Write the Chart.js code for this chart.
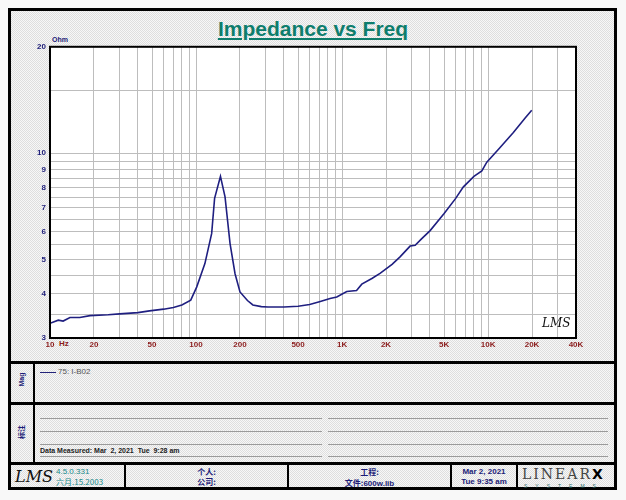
<!DOCTYPE html>
<html>
<head>
<meta charset="utf-8">
<script src="https://cdn.jsdelivr.net/npm/chart.js@4.4.1/dist/chart.umd.min.js"></script>
<style>
  html, body { margin: 0; padding: 0; }
  body {
    width: 626px; height: 500px; position: relative; overflow: hidden;
    background: #f8f8f8;
    font-family: "Liberation Sans", Arial, sans-serif;
  }
  .dither {
    background: repeating-conic-gradient(#f7f7f7 0 25%, #dedede 0 50%) 0 0 / 2px 2px;
  }
  .abs { position: absolute; }
  .bar { position: absolute; background: #000; }
  #frame { left: 8px; top: 8px; width: 603px; height: 476px; border: 3px solid #000; }
  #title {
    left: 0; width: 626px; top: 17px; text-align: center;
    font-size: 21px; font-weight: bold; color: #0e7d6c; text-decoration: underline;
  }
  #wrap { left: 10px; top: 38px; width: 598px; height: 318px; }
  .navy { color: #1c1c78; }
  .small { font-size: 8px; font-weight: bold; }
  .vert { transform: rotate(-90deg); transform-origin: center; text-align: center; width: 40px; }
  .nline { position: absolute; height: 1px; background: #9a9a9a; }
  .ft { font-size: 8px; font-weight: bold; color: #1c1c78; text-align: center; line-height: 10px; }
</style>
</head>
<body>
<div id="frame" class="abs dither"></div>
<div id="title" class="abs">Impedance vs Freq</div>
<div class="abs small navy" style="left:52px;top:36px;font-size:7px;">Ohm</div>
<div class="abs small" style="left:59px;top:339px;color:#8b1c1c;">Hz</div>
<div id="wrap" class="abs"><canvas id="chart" width="598" height="318"></canvas></div>
<div class="abs" style="left:542px;top:316px;font-family:'DejaVu Serif',serif;font-style:italic;font-size:12px;color:#111;">LMS</div>

<!-- legend / notes / footer separators -->
<div class="bar" style="left:8px;top:361px;width:609px;height:3px;"></div>
<div class="bar" style="left:8px;top:402px;width:609px;height:3px;"></div>
<div class="bar" style="left:8px;top:462px;width:609px;height:3px;"></div>
<div class="bar" style="left:33px;top:363px;width:2px;height:100px;"></div>

<div class="abs small navy vert" style="left:1px;top:376px;font-size:7px;">Mag</div>
<div class="abs small navy vert" style="left:1px;top:427px;font-size:7px;font-family:'Noto Sans CJK SC';">标注</div>

<div class="abs" style="left:40px;top:372px;width:16px;height:1px;background:#23237a;"></div>
<div class="abs" style="left:58px;top:367px;font-size:8px;color:#555;">75: I-B02</div>

<div class="nline" style="left:40px;top:418px;width:282px;"></div>
<div class="nline" style="left:40px;top:431px;width:282px;"></div>
<div class="nline" style="left:40px;top:444px;width:282px;"></div>
<div class="nline" style="left:40px;top:456px;width:282px;"></div>
<div class="nline" style="left:328px;top:418px;width:280px;"></div>
<div class="nline" style="left:328px;top:431px;width:280px;"></div>
<div class="nline" style="left:328px;top:444px;width:280px;"></div>
<div class="nline" style="left:328px;top:456px;width:280px;"></div>
<div class="abs" style="left:40px;top:447px;font-size:7px;font-weight:bold;color:#222;">Data Measured: Mar&nbsp; 2, 2021&nbsp; Tue&nbsp; 9:28 am</div>

<!-- footer -->
<div class="bar" style="left:124px;top:464px;width:2px;height:24px;"></div>
<div class="bar" style="left:287px;top:464px;width:2px;height:24px;"></div>
<div class="bar" style="left:450px;top:464px;width:2px;height:24px;"></div>
<div class="bar" style="left:516px;top:464px;width:2px;height:24px;"></div>
<div class="abs" style="left:15px;top:467px;font-family:'DejaVu Serif',serif;font-style:italic;font-size:16px;color:#111;">LMS</div>
<div class="abs" style="left:56px;top:467px;font-size:8px;color:#168a8a;line-height:10px;">4.5.0.331<br><span style="font-family:'Noto Sans CJK SC';">六月.15.2003</span></div>
<div class="abs ft" style="left:126px;width:161px;top:467px;font-family:'Noto Sans CJK SC';">个人:<br>公司:</div>
<div class="abs ft" style="left:289px;width:161px;top:467px;"><span style="font-family:'Noto Sans CJK SC';">工程:</span><br><span style="font-family:'Noto Sans CJK SC';">文件:</span>600w.lib</div>
<div class="abs ft" style="left:452px;width:64px;top:467px;">Mar 2, 2021<br>Tue 9:35 am</div>
<div class="abs" style="left:522px;top:466px;font-family:'DejaVu Serif',serif;font-size:14px;color:#444;letter-spacing:2px;">LINEAR<b style="font-family:'DejaVu Sans';color:#000;">X</b></div>
<div class="abs" style="left:524px;top:483px;font-size:5px;color:#2a6a6a;letter-spacing:8px;">SYSTEMS</div>

<script>
// impedance curve
const freqs = [10, 11.4, 12.3, 13.7, 16, 18.8, 25, 30, 40, 48, 60, 70, 80, 92, 101, 115, 128, 134, 147, 158, 171, 185, 200, 225, 245, 280, 311, 400, 500, 600, 700, 828, 920, 1077, 1257, 1365, 1600, 1820, 2200, 2495, 2924, 3167, 3500, 4010, 5000, 6000, 6776, 8000, 9060, 9800, 12000, 14900, 18000, 19900];
const ohms = [3.30, 3.37, 3.35, 3.43, 3.43, 3.47, 3.49, 3.51, 3.54, 3.58, 3.62, 3.66, 3.72, 3.84, 4.18, 4.87, 5.93, 7.45, 8.6, 7.52, 5.55, 4.56, 4.05, 3.83, 3.72, 3.68, 3.67, 3.67, 3.69, 3.73, 3.8, 3.88, 3.92, 4.06, 4.09, 4.26, 4.42, 4.57, 4.85, 5.09, 5.46, 5.49, 5.72, 6.04, 6.75, 7.45, 8.03, 8.6, 8.91, 9.43, 10.35, 11.45, 12.6, 13.23];

const xGrid = [10, 20, 30, 40, 50, 60, 70, 80, 90, 100, 200, 300, 400, 500, 600, 700, 800, 900,
  1000, 2000, 3000, 4000, 5000, 6000, 7000, 8000, 9000, 10000, 20000, 30000, 40000];
const xLabels = { 10: "10", 20: "20", 50: "50", 100: "100", 200: "200", 500: "500",
  1000: "1K", 2000: "2K", 5000: "5K", 10000: "10K", 20000: "20K", 40000: "40K" };
const yGrid = [3, 3.5, 4, 4.5, 5, 5.5, 6, 6.5, 7, 7.5, 8, 8.5, 9, 9.5, 10, 15, 20];
const yLabels = [3, 4, 5, 6, 7, 8, 9, 10, 20];

const plotBg = {
  id: "plotBg",
  beforeDraw(chart) {
    const { ctx, chartArea: a } = chart;
    ctx.save();
    ctx.fillStyle = "#fff";
    ctx.fillRect(a.left, a.top, a.right - a.left, a.bottom - a.top);
    ctx.restore();
  },
  afterDraw(chart) {
    const { ctx, chartArea: a } = chart;
    ctx.save();
    ctx.strokeStyle = "#000";
    ctx.lineWidth = 2;
    ctx.strokeRect(a.left, a.top, a.right - a.left, a.bottom - a.top);
    ctx.restore();
  }
};

new Chart(document.getElementById("chart"), {
  type: "line",
  data: {
    datasets: [{
      label: "75: I-B02",
      data: freqs.map((f, i) => ({ x: f, y: ohms[i] })),
      borderColor: "#1f1f80",
      borderWidth: 1.6,
      pointRadius: 0,
      tension: 0,
      fill: false
    }]
  },
  options: {
    responsive: false,
    animation: false,
    events: [],
    layout: { padding: { left: 10, top: 8, right: 32, bottom: 6 } },
    plugins: { legend: { display: false }, tooltip: { enabled: false } },
    scales: {
      x: {
        type: "logarithmic", min: 10, max: 40000,
        afterBuildTicks: s => { s.ticks = xGrid.map(v => ({ value: v })); },
        afterFit: s => { s.height = 12; },
        grid: { color: "#bdbdbd", lineWidth: 1, drawTicks: false },
        border: { display: false },
        ticks: {
          autoSkip: false, maxRotation: 0, padding: 2, color: "#8b1c1c",
          font: { family: "Liberation Sans", size: 8, weight: "bold" },
          callback: v => xLabels[v] || ""
        }
      },
      y: {
        type: "logarithmic", min: 3, max: 20,
        afterBuildTicks: s => { s.ticks = yGrid.map(v => ({ value: v })); },
        afterFit: s => { s.width = 30; },
        grid: { color: "#bdbdbd", lineWidth: 1, drawTicks: false },
        border: { display: false },
        ticks: {
          autoSkip: false, padding: 4, color: "#1c1c78",
          font: { family: "Liberation Sans", size: 8, weight: "bold" },
          callback: v => yLabels.includes(v) ? String(v) : ""
        }
      }
    }
  },
  plugins: [plotBg]
});
</script>
</body>
</html>
